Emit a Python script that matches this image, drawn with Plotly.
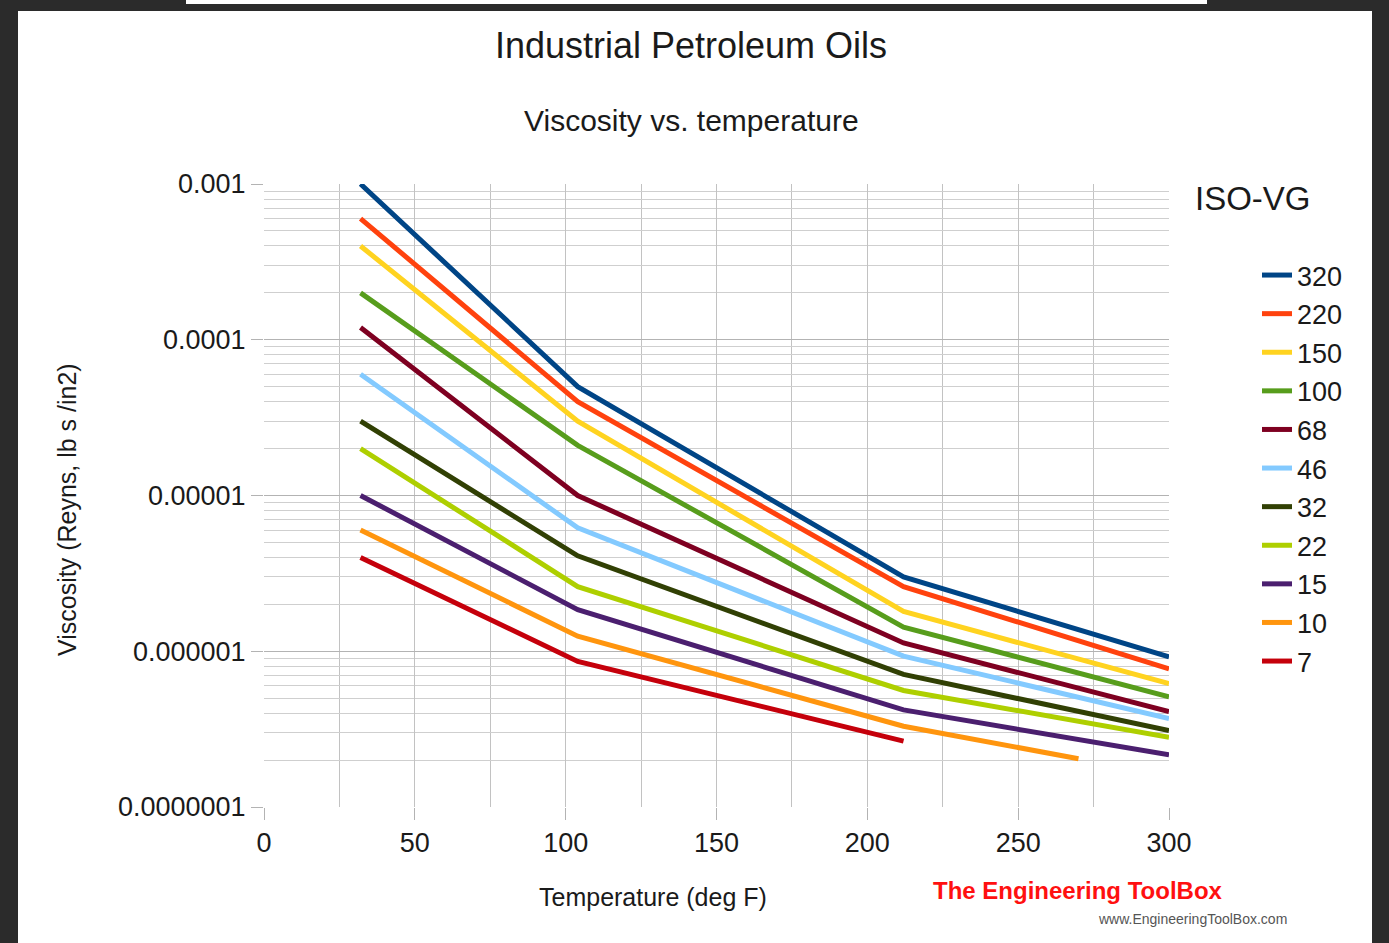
import plotly.graph_objects as go

# ---- data ----
grades = ["320", "220", "150", "100", "68", "46", "32", "22", "15", "10", "7"]
colors = ["#004586", "#ff420e", "#ffd320", "#579d1c", "#7e0021", "#83caff",
          "#314004", "#aecf00", "#4b1f6f", "#ff950e", "#c5000b"]
temps = {
    "320": [32, 104, 212, 300],
    "220": [32, 104, 212, 300],
    "150": [32, 104, 212, 300],
    "100": [32, 104, 212, 300],
    "68":  [32, 104, 212, 300],
    "46":  [32, 104, 212, 300],
    "32":  [32, 104, 212, 300],
    "22":  [32, 104, 212, 300],
    "15":  [32, 104, 212, 300],
    "10":  [32, 104, 212, 270],
    "7":   [32, 104, 212],
}
visc = {
    "320": [1.0e-3, 5.0e-5, 3.0e-6, 9.2e-7],
    "220": [6.0e-4, 4.0e-5, 2.6e-6, 7.7e-7],
    "150": [4.0e-4, 3.0e-5, 1.8e-6, 6.2e-7],
    "100": [2.0e-4, 2.1e-5, 1.43e-6, 5.1e-7],
    "68":  [1.2e-4, 1.0e-5, 1.13e-6, 4.1e-7],
    "46":  [6.0e-5, 6.2e-6, 9.3e-7, 3.7e-7],
    "32":  [3.0e-5, 4.1e-6, 7.1e-7, 3.1e-7],
    "22":  [2.0e-5, 2.6e-6, 5.6e-7, 2.8e-7],
    "15":  [1.0e-5, 1.85e-6, 4.2e-7, 2.16e-7],
    "10":  [6.0e-6, 1.25e-6, 3.3e-7, 2.04e-7],
    "7":   [4.0e-6, 8.6e-7, 2.65e-7],
}
y_tickvals = [1e-3, 1e-4, 1e-5, 1e-6, 1e-7]
y_ticktext = ["0.001", "0.0001", "0.00001", "0.000001", "0.0000001"]
x_tickvals = [0, 50, 100, 150, 200, 250, 300]

W, H = 1389, 943
L, R, T, B = 264, 1169, 184, 807  # plot area in pixels
pw, ph = R - L, B - T

def px(x):
    return (x - L) / pw

def py(y):
    return (B - y) / ph

FONT = "Liberation Sans, Arial, sans-serif"
TXT = "#1a1a1a"

fig = go.Figure()
for i, g in enumerate(grades):
    fig.add_trace(go.Scatter(
        x=temps[g], y=visc[g], mode="lines", name=g,
        line=dict(color=colors[i], width=5),
        legendgroup=g,
    ))

fig.update_layout(
    width=W, height=H,
    margin=dict(l=L, r=W - R, t=T, b=H - B, pad=0),
    paper_bgcolor="#2b2b2b",
    plot_bgcolor="white",
    font=dict(family=FONT, color=TXT, size=24),
    showlegend=True,
    legend=dict(
        x=px(1257), y=py(251), xanchor="left", yanchor="top",
        font=dict(size=27, family=FONT, color=TXT),
        bgcolor="rgba(0,0,0,0)", tracegroupgap=0.5,
        itemwidth=30,
    ),
    title=dict(text="Industrial Petroleum Oils", x=px(691), xanchor="center",
               xref="paper", y=1 - 45 / H, yanchor="middle",
               font=dict(size=36, family=FONT, color=TXT)),
    xaxis=dict(
        range=[0, 300], tickvals=x_tickvals, ticks="outside", ticklen=12,
        tickcolor="#b3b3b3", tickfont=dict(size=27), showgrid=True,
        gridcolor="#c2c2c2", gridwidth=1.2, zeroline=False, showline=False,
        minor=dict(dtick=25, showgrid=True, gridcolor="#c2c2c2", ticks=""),
        automargin=False,
    ),
    yaxis=dict(
        type="log", range=[-7, -3], tickvals=y_tickvals, ticktext=y_ticktext,
        ticks="outside", ticklen=12, tickcolor="#b3b3b3", tickfont=dict(size=27),
        showgrid=True, gridcolor="#b3b3b3", gridwidth=1.2, zeroline=False,
        showline=False,
        minor=dict(dtick="D1", showgrid=True, gridcolor="#cfcfcf", ticks=""),
        automargin=False,
    ),
)

shapes = [
    # white panel over dark frame
    dict(type="rect", xref="paper", yref="paper", layer="below",
         x0=px(18), x1=px(1372), y0=py(943), y1=py(11),
         fillcolor="white", line=dict(width=0)),
    dict(type="rect", xref="paper", yref="paper", layer="below",
         x0=px(186), x1=px(1207), y0=py(4), y1=py(0),
         fillcolor="white", line=dict(width=0)),
]
fig.update_layout(shapes=shapes)

annotations = [
    dict(text="Viscosity vs. temperature", x=px(691), y=py(121), xref="paper",
         yref="paper", showarrow=False, xanchor="center", yanchor="middle",
         font=dict(size=30, family=FONT, color=TXT)),
    dict(text="Temperature (deg F)", x=px(653), y=py(897), xref="paper",
         yref="paper", showarrow=False, xanchor="center", yanchor="middle",
         font=dict(size=25, family=FONT, color=TXT)),
    dict(text="Viscosity (Reyns, lb s /in2)", x=px(67), y=py(510), xref="paper",
         yref="paper", showarrow=False, xanchor="center", yanchor="middle",
         textangle=-90, font=dict(size=25, family=FONT, color=TXT)),
    dict(text="ISO-VG", x=px(1193), y=py(198), xref="paper", yref="paper",
         showarrow=False, xanchor="left", yanchor="middle",
         font=dict(size=33, family=FONT, color=TXT)),
    dict(text="<b>The Engineering ToolBox</b>", x=px(1078), y=py(891),
         xref="paper", yref="paper", showarrow=False, xanchor="center",
         yanchor="middle",
         font=dict(size=24, family=FONT, color="#ff1010")),
    dict(text="www.EngineeringToolBox.com", x=px(1192), y=py(919), xref="paper",
         yref="paper", showarrow=False, xanchor="center", yanchor="middle",
         font=dict(size=14, family=FONT, color="#555555")),
]
fig.update_layout(annotations=annotations)

fig.write_html(
    "out.html",
    config={"displayModeBar": False},
    post_script="document.body.style.margin='0';document.body.style.background='#2b2b2b';",
)
